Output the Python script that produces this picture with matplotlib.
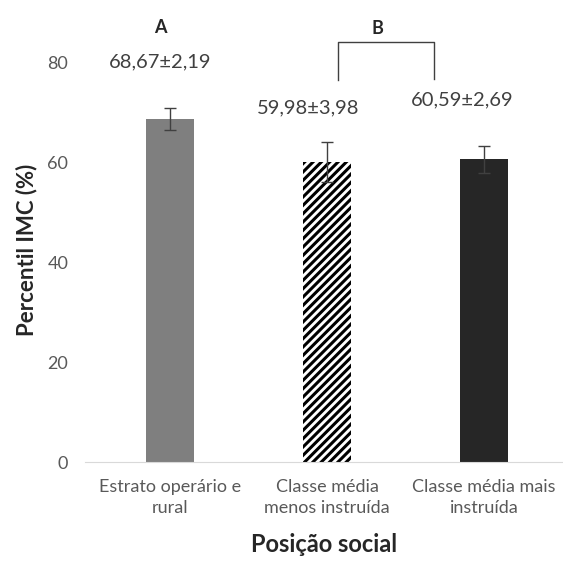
import matplotlib
matplotlib.use("Agg")
import matplotlib.pyplot as plt

categorias = ["Estrato operário e\nrural", "Classe média\nmenos instruída", "Classe média mais\ninstruída"]
medias = [68.67, 59.98, 60.59]
erros = [2.19, 3.98, 2.69]
rotulos = ["68,67±2,19", "59,98±3,98", "60,59±2,69"]
y_ticks = [0, 20, 40, 60, 80]

plt.rcParams['font.family'] = ['Lato', 'DejaVu Sans']
plt.rcParams['hatch.linewidth'] = 2.2

fig = plt.figure(figsize=(5.63, 5.65), dpi=100)
ax = fig.add_axes([0.151, 0.1823, 0.849, 0.752])

x = list(range(len(categorias)))
bars = ax.bar(x, medias, width=0.31, color=['#7f7f7f', 'white', '#262626'],
              yerr=erros, capsize=4, error_kw=dict(ecolor='#404040', elinewidth=1, capthick=1))
bars[1].set_hatch('////')
bars[1].set_edgecolor('black')
bars[1].set_linewidth(0)

# rótulos de valor
ax.text(x[0] - 0.06, 80, rotulos[0], ha='center', va='center', fontsize=14.5, color='#404040')
ax.text(x[1] - 0.12, 70.8, rotulos[1], ha='center', va='center', fontsize=14.5, color='#404040')
ax.text(x[2] - 0.14, 72.4, rotulos[2], ha='center', va='center', fontsize=14.5, color='#404040')

# letras e colchete
ax.text(x[0] - 0.06, 87, 'A', ha='center', va='center', fontsize=13, fontweight='bold', color='#262626')
ax.text(x[1] + 0.32, 86.8, 'B', ha='center', va='center', fontsize=13, fontweight='bold', color='#262626')
ax.plot([x[1] + 0.07, x[1] + 0.07, x[2] - 0.32, x[2] - 0.32], [76.4, 84, 84, 76.6],
        color='#404040', lw=1, clip_on=False)

ax.set_xlim(-0.541, 2.503)
ax.set_ylim(0, 85)
ax.set_yticks(y_ticks)
ax.set_xticks(x, categorias)
ax.tick_params(axis='both', length=0, labelsize=13, colors='#595959')
ax.tick_params(axis='y', pad=12)
ax.tick_params(axis='x', pad=12)
for lab in ax.get_xticklabels():
    lab.set_linespacing(1.4)
for s in ['top', 'right', 'left']:
    ax.spines[s].set_visible(False)
ax.spines['bottom'].set_color('#d9d9d9')

ax.set_ylabel('Percentil IMC (%)', fontsize=16, fontweight='bold', color='#262626')
ax.yaxis.set_label_coords(-0.10, 0.5)
ax.set_xlabel('Posição social', fontsize=17, fontweight='bold', color='#262626', labelpad=12)

plt.savefig("out.png", dpi=100)
